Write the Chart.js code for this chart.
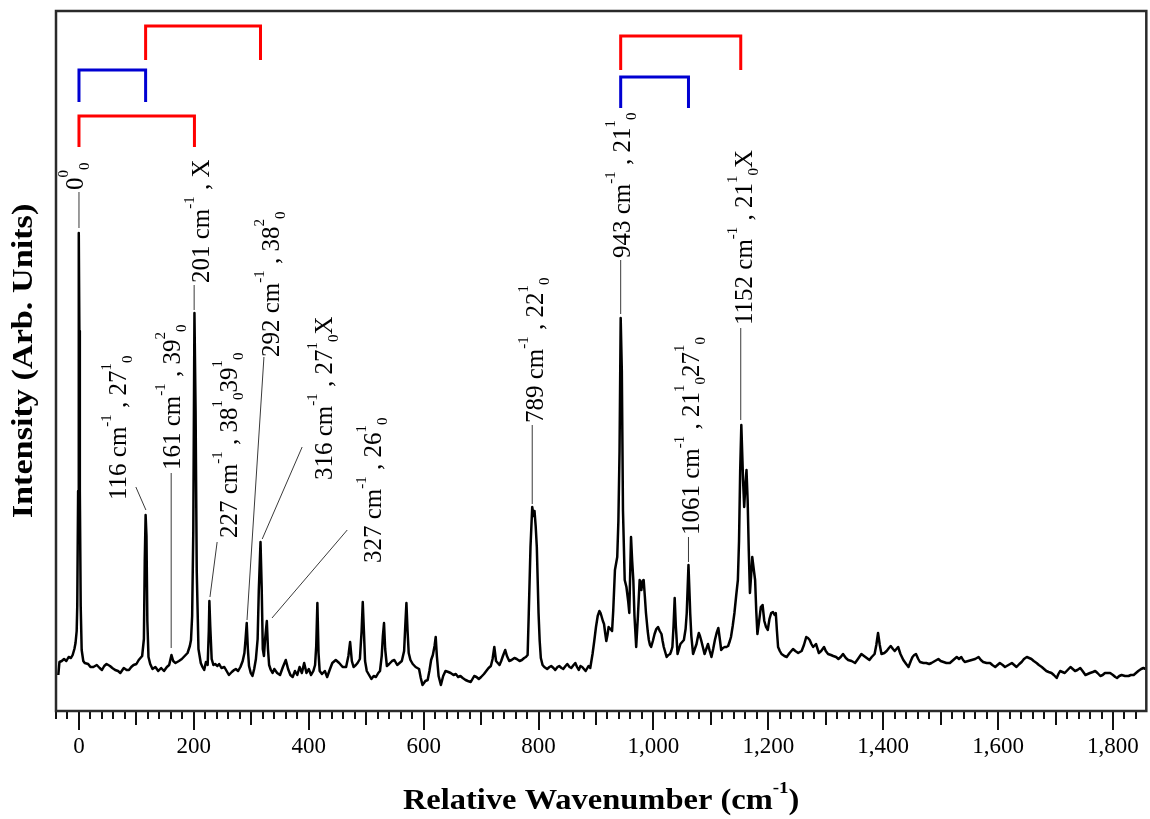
<!DOCTYPE html>
<html>
<head>
<meta charset="utf-8">
<title>Relative Wavenumber spectrum</title>
<script src="https://cdn.jsdelivr.net/npm/chart.js@4.4.1/dist/chart.umd.min.js"></script>
<style>
  html, body { margin: 0; padding: 0; background: #fff; }
  canvas { display: block; }
</style>
</head>
<body>
<canvas id="spectrum" width="1150" height="819"></canvas>
<script>
// Relative wavenumber (cm^-1) of each sample point
const wavenumbers = [
  -36, -34, -30, -26, -22, -18, -14, -11, -8, -6, -4, -3, -1.5, -0.7, 0, 0.7, 1.5, 3, 4.7, 7.5, 10, 16,
  20, 25, 31, 36, 40, 44, 48, 54, 58, 63, 68, 72, 78, 83, 87, 91, 95, 100, 104, 110,
  113, 114.5, 116, 117.5, 119, 121, 124, 128, 133, 138, 143, 148, 153, 157, 161, 164, 168, 174, 179, 184,
  189, 193, 195, 197, 199, 201, 203, 205, 208, 212, 215, 218, 221, 224, 226, 227, 228.5, 231, 234, 237,
  241, 244, 248, 253, 257, 261, 266, 270, 273, 277, 281, 285, 288, 290, 292, 294, 296, 299, 302, 305,
  308, 311, 313, 316, 318, 320, 322, 324, 327, 329, 331, 334, 337, 340, 345, 350, 355, 360, 364, 368,
  372, 376, 380, 384, 388, 392, 396, 400, 404, 408, 411, 413, 415, 417, 419, 423, 428, 432, 437, 441,
  447, 453, 459, 465, 469, 472, 475, 478, 482, 485, 489, 492, 494, 496, 498, 501, 505, 509, 513, 517,
  521, 524, 527, 529, 531, 533, 536, 540, 545, 549, 554, 558, 562, 566, 568, 570, 572, 574, 577, 581,
  586, 592, 595, 598, 603, 607, 610, 613, 616, 619, 621, 623, 626, 630, 634, 638, 643, 647, 652, 656,
  660, 664, 668, 673, 677, 682, 685, 688, 692, 696, 700, 705, 709, 713, 717, 720, 723, 726, 729, 732,
  735, 738, 742, 745, 749, 753, 758, 762, 767, 771, 775, 778, 781, 783, 786, 789, 791.5, 793, 795, 797,
  800, 802, 804, 807, 810, 815, 819, 822, 826, 829, 833, 836, 840, 843, 847, 850, 854, 857, 861, 864,
  867, 870, 873, 876, 879, 882, 885, 887, 890, 892, 894, 897, 900, 903, 906, 908, 910, 912, 914, 916,
  918, 920, 922, 925, 928, 930, 933, 937, 939, 941, 943, 945, 947, 950, 953, 956, 958, 960, 961, 963,
  965, 967, 970, 973, 976, 978, 979, 981, 983, 985, 987, 990, 992, 994, 996, 999, 1002, 1005, 1008, 1011,
  1014, 1016, 1018, 1021, 1023, 1026, 1029, 1031, 1033, 1035, 1037, 1039, 1042, 1045, 1047, 1050, 1053, 1056, 1058, 1061,
  1063, 1064, 1066, 1069, 1072, 1075, 1077, 1079, 1081, 1083, 1086, 1089, 1092, 1095, 1098, 1101, 1104, 1107, 1110, 1113,
  1116, 1118, 1121, 1124, 1127, 1130, 1133, 1135, 1138, 1141, 1144, 1147, 1149, 1151, 1153, 1155, 1156, 1158, 1160, 1162,
  1164, 1166, 1168, 1170, 1172, 1175, 1177, 1179, 1181, 1184, 1187, 1190, 1193, 1196, 1199, 1202, 1205, 1208, 1211, 1213,
  1215, 1217, 1220, 1223, 1228, 1232, 1237, 1243, 1247, 1252, 1258, 1262, 1266, 1269, 1272, 1275, 1278, 1283, 1288, 1292,
  1297, 1300, 1304, 1309, 1313, 1318, 1322, 1326, 1330, 1335, 1339, 1345, 1351, 1356, 1362, 1369, 1376, 1380, 1385, 1388,
  1391, 1394, 1397, 1402, 1406, 1410, 1413, 1417, 1420, 1423, 1426, 1430, 1435, 1440, 1444, 1448, 1451, 1454, 1457, 1461,
  1464, 1470, 1475, 1480, 1484, 1490, 1496, 1500, 1505, 1510, 1516, 1522, 1528, 1532, 1536, 1539, 1542, 1548, 1554, 1560,
  1566, 1570, 1574, 1580, 1586, 1590, 1595, 1599, 1603, 1608, 1612, 1618, 1624, 1628, 1632, 1637, 1641, 1645, 1650, 1654,
  1658, 1662, 1667, 1671, 1676, 1680, 1684, 1688, 1693, 1697, 1702, 1705, 1708, 1712, 1716, 1721, 1726, 1730, 1734, 1738,
  1743, 1747, 1752, 1756, 1760, 1765, 1769, 1773, 1778, 1782, 1786, 1790, 1795, 1800, 1804, 1807, 1811, 1815, 1821, 1827,
  1831, 1836, 1840, 1844, 1849, 1853, 1857
];

// Intensity (arbitrary units) at each wavenumber
const intensities = [
  36, 49, 50, 52, 50, 54, 53, 56, 62, 68, 80, 105, 220, 380, 478, 380, 220, 105, 61, 50, 48, 47,
  44, 44, 46, 43, 41, 45, 47, 45, 43, 41, 40, 38, 43, 41, 41, 44, 46, 47, 51, 55,
  72, 150, 196, 175, 90, 54, 47, 42, 44, 40, 43, 40, 44, 46, 56, 50, 48, 50, 52, 55,
  58, 65, 71, 95, 180, 398, 300, 140, 62, 48, 44, 41, 49, 46, 80, 110, 85, 52, 46, 47,
  45, 47, 43, 44, 40, 36, 39, 41, 42, 40, 44, 50, 58, 72, 88, 62, 45, 38, 35, 42,
  52, 72, 120, 169, 125, 62, 55, 72, 90, 62, 46, 41, 38, 42, 38, 36, 44, 51, 42, 36,
  34, 40, 36, 44, 38, 48, 38, 42, 36, 40, 46, 65, 108, 58, 40, 37, 40, 34, 42, 48,
  51, 48, 44, 44, 55, 69, 50, 44, 46, 48, 52, 80, 109, 80, 50, 40, 36, 32, 35, 34,
  38, 40, 55, 75, 88, 62, 45, 47, 50, 51, 46, 48, 50, 60, 85, 108, 80, 58, 51, 47,
  44, 42, 33, 26, 30, 31, 40, 51, 56, 65, 74, 55, 35, 26, 35, 40, 39, 38, 36, 37,
  34, 35, 33, 31, 30, 29, 32, 35, 34, 32, 34, 37, 40, 43, 45, 52, 64, 50, 48, 46,
  50, 55, 61, 55, 50, 51, 53, 52, 50, 51, 53, 54, 56, 98, 164, 204, 195, 200, 185, 164,
  98, 70, 53, 46, 44, 42, 44, 45, 43, 41, 44, 45, 43, 42, 45, 47, 44, 43, 46, 48,
  44, 41, 45, 44, 42, 40, 43, 45, 43, 50, 57, 70, 84, 95, 100, 98, 94, 90, 87, 78,
  70, 76, 84, 82, 80, 100, 141, 154, 190, 260, 393, 340, 200, 131, 124, 110, 98, 150, 174, 150,
  131, 95, 64, 95, 131, 125, 121, 130, 131, 115, 98, 80, 71, 66, 64, 70, 77, 82, 84, 80,
  77, 70, 64, 58, 54, 56, 57, 60, 64, 85, 113, 85, 57, 63, 67, 69, 71, 82, 98, 146,
  115, 98, 75, 57, 62, 67, 73, 78, 75, 71, 64, 57, 62, 67, 60, 54, 62, 71, 78, 83,
  70, 61, 63, 64, 64, 65, 70, 74, 85, 98, 115, 131, 170, 240, 286, 250, 231, 204, 225, 241,
  211, 160, 118, 135, 154, 140, 131, 100, 77, 90, 104, 106, 90, 84, 81, 92, 98, 99, 96, 98,
  80, 64, 60, 57, 55, 54, 58, 62, 60, 58, 60, 66, 74, 73, 71, 67, 64, 67, 58, 60,
  64, 60, 57, 56, 55, 54, 52, 54, 57, 53, 51, 50, 48, 52, 57, 54, 51, 54, 57, 66,
  78, 66, 57, 58, 60, 63, 65, 62, 60, 62, 64, 57, 51, 47, 44, 50, 54, 56, 57, 52,
  49, 48, 48, 47, 48, 50, 52, 50, 49, 48, 48, 51, 54, 52, 54, 51, 49, 50, 51, 52,
  54, 51, 49, 48, 48, 46, 44, 46, 48, 46, 44, 46, 48, 46, 44, 47, 49, 52, 54, 53,
  52, 50, 48, 46, 44, 42, 40, 39, 38, 36, 33, 37, 40, 39, 38, 41, 44, 42, 40, 41,
  43, 40, 36, 37, 38, 39, 40, 38, 35, 36, 38, 38, 38, 36, 34, 33, 35, 36, 35, 35,
  36, 36, 38, 40, 42, 43, 42
];

// Axis ranges and tick spacing (cm^-1)
const xRange = [-40, 1858];
const yRange = [0, 700];
const minorStep = 20;
const labelStep = 200;

const SERIF = '"Liberation Serif", "Times New Roman", Times, serif';

// Peak assignments: text runs ('n' normal, 'sup', 'sub'), text start and leader line in data units
const peakLabels = [
  { parts: [['0', 'n'], ['0', 'sup'], ['0', 'sub']], at: [7, 521], leader: [0, 483, 0, 519] },
  { parts: [['116 cm', 'n'], ['-1', 'sup'], [' , 27', 'n'], ['1', 'sup'], ['0', 'sub']], at: [82, 211], leader: [99, 224, 116.5, 201] },
  { parts: [['161 cm', 'n'], ['-1', 'sup'], [' , 39', 'n'], ['2', 'sup'], ['0', 'sub']], at: [176, 241], leader: [160.5, 238, 160.5, 63] },
  { parts: [['201 cm', 'n'], ['-1', 'sup'], [' , X', 'n']], at: [226, 428], leader: [200.5, 426, 200.5, 401] },
  { parts: [['227 cm', 'n'], ['-1', 'sup'], [' , 38', 'n'], ['1', 'sup'], ['0', 'sub'], ['39', 'n'], ['1', 'sup'], ['0', 'sub']], at: [275, 173], leader: [240.5, 169, 228, 114] },
  { parts: [['292 cm', 'n'], ['-1', 'sup'], [' , 38', 'n'], ['2', 'sup'], ['0', 'sub']], at: [348, 354], leader: [322, 354, 292.5, 91] },
  { parts: [['316 cm', 'n'], ['-1', 'sup'], [' , 27', 'n'], ['1', 'sup'], ['0', 'sub'], ['X', 'n']], at: [441, 231], leader: [388.5, 264, 319, 172] },
  { parts: [['327 cm', 'n'], ['-1', 'sup'], [' , 26', 'n'], ['1', 'sup'], ['0', 'sub']], at: [526, 148], leader: [467, 181, 336, 93] },
  { parts: [['789 cm', 'n'], ['-1', 'sup'], [' , 22', 'n'], ['1', 'sup'], ['0', 'sub']], at: [807, 288], leader: [789, 286, 789, 207] },
  { parts: [['943 cm', 'n'], ['-1', 'sup'], [' , 21', 'n'], ['1', 'sup'], ['0', 'sub']], at: [960, 453], leader: [943, 451, 943, 397] },
  { parts: [['1061 cm', 'n'], ['-1', 'sup'], [' , 21', 'n'], ['1', 'sup'], ['0', 'sub'], ['27', 'n'], ['1', 'sup'], ['0', 'sub']], at: [1080, 176], leader: [1061, 174, 1061, 149] },
  { parts: [['1152 cm', 'n'], ['-1', 'sup'], [' , 21', 'n'], ['1', 'sup'], ['0', 'sub'], ['X', 'n']], at: [1171, 386], leader: [1152, 383, 1152, 291] }
];

// Progression brackets: horizontal bar at `top`, feet down to `foot`
const brackets = [
  { from: 0, to: 201, top: 595, foot: 564, color: '#ff0000' },
  { from: 0, to: 116, top: 641, foot: 609, color: '#0000d2' },
  { from: 116, to: 316, top: 685, foot: 651, color: '#ff0000' },
  { from: 943, to: 1152, top: 675, foot: 641, color: '#ff0000' },
  { from: 943, to: 1061, top: 634, foot: 603, color: '#0000d2' }
];

const isMultiple = (v, step) => Math.abs(v / step - Math.round(v / step)) < 1e-6;

// Draws a run of normal / superscript / subscript text rotated to read bottom-to-top
function drawRotatedRuns(ctx, parts, x, y, opts) {
  ctx.save();
  ctx.translate(x, y);
  ctx.rotate(-Math.PI / 2);
  ctx.textAlign = 'left';
  ctx.textBaseline = 'alphabetic';
  let cx = 0;
  for (const [text, kind] of parts) {
    const small = kind !== 'n';
    ctx.font = (opts.weight || '') + ' ' + (small ? opts.small : opts.size) + 'px ' + SERIF;
    const dy = kind === 'sup' ? -opts.raise : (kind === 'sub' ? opts.lower : 0);
    ctx.fillText(text, cx, dy);
    cx += ctx.measureText(text).width;
  }
  ctx.restore();
}

const decorPlugin = {
  id: 'spectrumDecor',
  afterDraw(chart) {
    const { ctx, chartArea: a, scales: { x, y } } = chart;
    ctx.save();

    // longer tick marks at every 100 and 200 cm^-1
    ctx.strokeStyle = '#111';
    ctx.lineWidth = 2;
    for (const t of x.ticks) {
      let len = 0;
      if (isMultiple(t.value, 200)) len = 19;
      else if (isMultiple(t.value, 100)) len = 14;
      if (!len) continue;
      const px = Math.round(x.getPixelForValue(t.value));
      ctx.beginPath();
      ctx.moveTo(px, a.bottom);
      ctx.lineTo(px, a.bottom + len);
      ctx.stroke();
    }

    // plot frame
    ctx.strokeStyle = '#2a2a2a';
    ctx.lineWidth = 2.5;
    ctx.strokeRect(a.left, a.top, a.right - a.left, a.bottom - a.top);

    // progression brackets
    ctx.lineWidth = 3;
    ctx.lineJoin = 'miter';
    ctx.lineCap = 'butt';
    for (const b of brackets) {
      const x1 = x.getPixelForValue(b.from), x2 = x.getPixelForValue(b.to);
      const yt = y.getPixelForValue(b.top), yf = y.getPixelForValue(b.foot);
      ctx.strokeStyle = b.color;
      ctx.beginPath();
      ctx.moveTo(x1, yf);
      ctx.lineTo(x1, yt);
      ctx.lineTo(x2, yt);
      ctx.lineTo(x2, yf);
      ctx.stroke();
    }

    // leader lines and peak assignments
    ctx.strokeStyle = '#3a3a3a';
    ctx.lineWidth = 1;
    ctx.fillStyle = '#000';
    for (const p of peakLabels) {
      const [v1, i1, v2, i2] = p.leader;
      ctx.beginPath();
      ctx.moveTo(x.getPixelForValue(v1), y.getPixelForValue(i1));
      ctx.lineTo(x.getPixelForValue(v2), y.getPixelForValue(i2));
      ctx.stroke();
      drawRotatedRuns(ctx, p.parts, x.getPixelForValue(p.at[0]), y.getPixelForValue(p.at[1]),
        { size: 25, small: 15, raise: 15, lower: 6 });
    }

    // y axis title
    ctx.fillStyle = '#000';
    ctx.save();
    ctx.translate(25, (a.top + a.bottom) / 2);
    ctx.rotate(-Math.PI / 2);
    ctx.scale(1.18, 1);
    ctx.font = 'bold 29px ' + SERIF;
    ctx.textAlign = 'center';
    ctx.textBaseline = 'middle';
    ctx.fillText('Intensity (Arb. Units)', 0, 0);
    ctx.restore();

    // x axis title with superscript
    ctx.save();
    ctx.translate((a.left + a.right) / 2, 802);
    ctx.scale(1.12, 1);
    const runs = [['Relative Wavenumber (cm', 29, 0], ['-1', 17, -13], [')', 29, 0]];
    let total = 0;
    for (const r of runs) { ctx.font = 'bold ' + r[1] + 'px ' + SERIF; total += ctx.measureText(r[0]).width; }
    let cx = -total / 2;
    ctx.textBaseline = 'middle';
    ctx.textAlign = 'left';
    for (const r of runs) {
      ctx.font = 'bold ' + r[1] + 'px ' + SERIF;
      ctx.fillText(r[0], cx, r[2]);
      cx += ctx.measureText(r[0]).width;
    }
    ctx.restore();

    ctx.restore();
  }
};

const points = wavenumbers.map((w, i) => ({ x: w, y: intensities[i] }));

new Chart(document.getElementById('spectrum'), {
  type: 'line',
  data: {
    datasets: [{
      data: points,
      borderColor: '#000',
      borderWidth: 2.5,
      pointRadius: 0,
      tension: 0,
      borderJoinStyle: 'round',
      fill: false
    }]
  },
  options: {
    responsive: false,
    animation: false,
    devicePixelRatio: 1,
    layout: { padding: { left: 56, right: 3, top: 11, bottom: 0 } },
    plugins: { legend: { display: false }, tooltip: { enabled: false } },
    scales: {
      x: {
        type: 'linear',
        min: xRange[0],
        max: xRange[1],
        afterFit: (s) => { s.height = 108; },
        border: { display: false },
        grid: { display: true, drawOnChartArea: false, drawTicks: true, tickLength: 8, color: '#111', lineWidth: 2 },
        ticks: {
          stepSize: minorStep,
          includeBounds: false,
          autoSkip: false,
          maxRotation: 0,
          padding: 14,
          color: '#000',
          font: { family: SERIF, size: 23 },
          callback: (v) => isMultiple(v, labelStep) ? Number(v).toLocaleString('en-US') : ''
        }
      },
      y: {
        display: false,
        min: yRange[0],
        max: yRange[1]
      }
    }
  },
  plugins: [decorPlugin]
});
</script>
</body>
</html>
